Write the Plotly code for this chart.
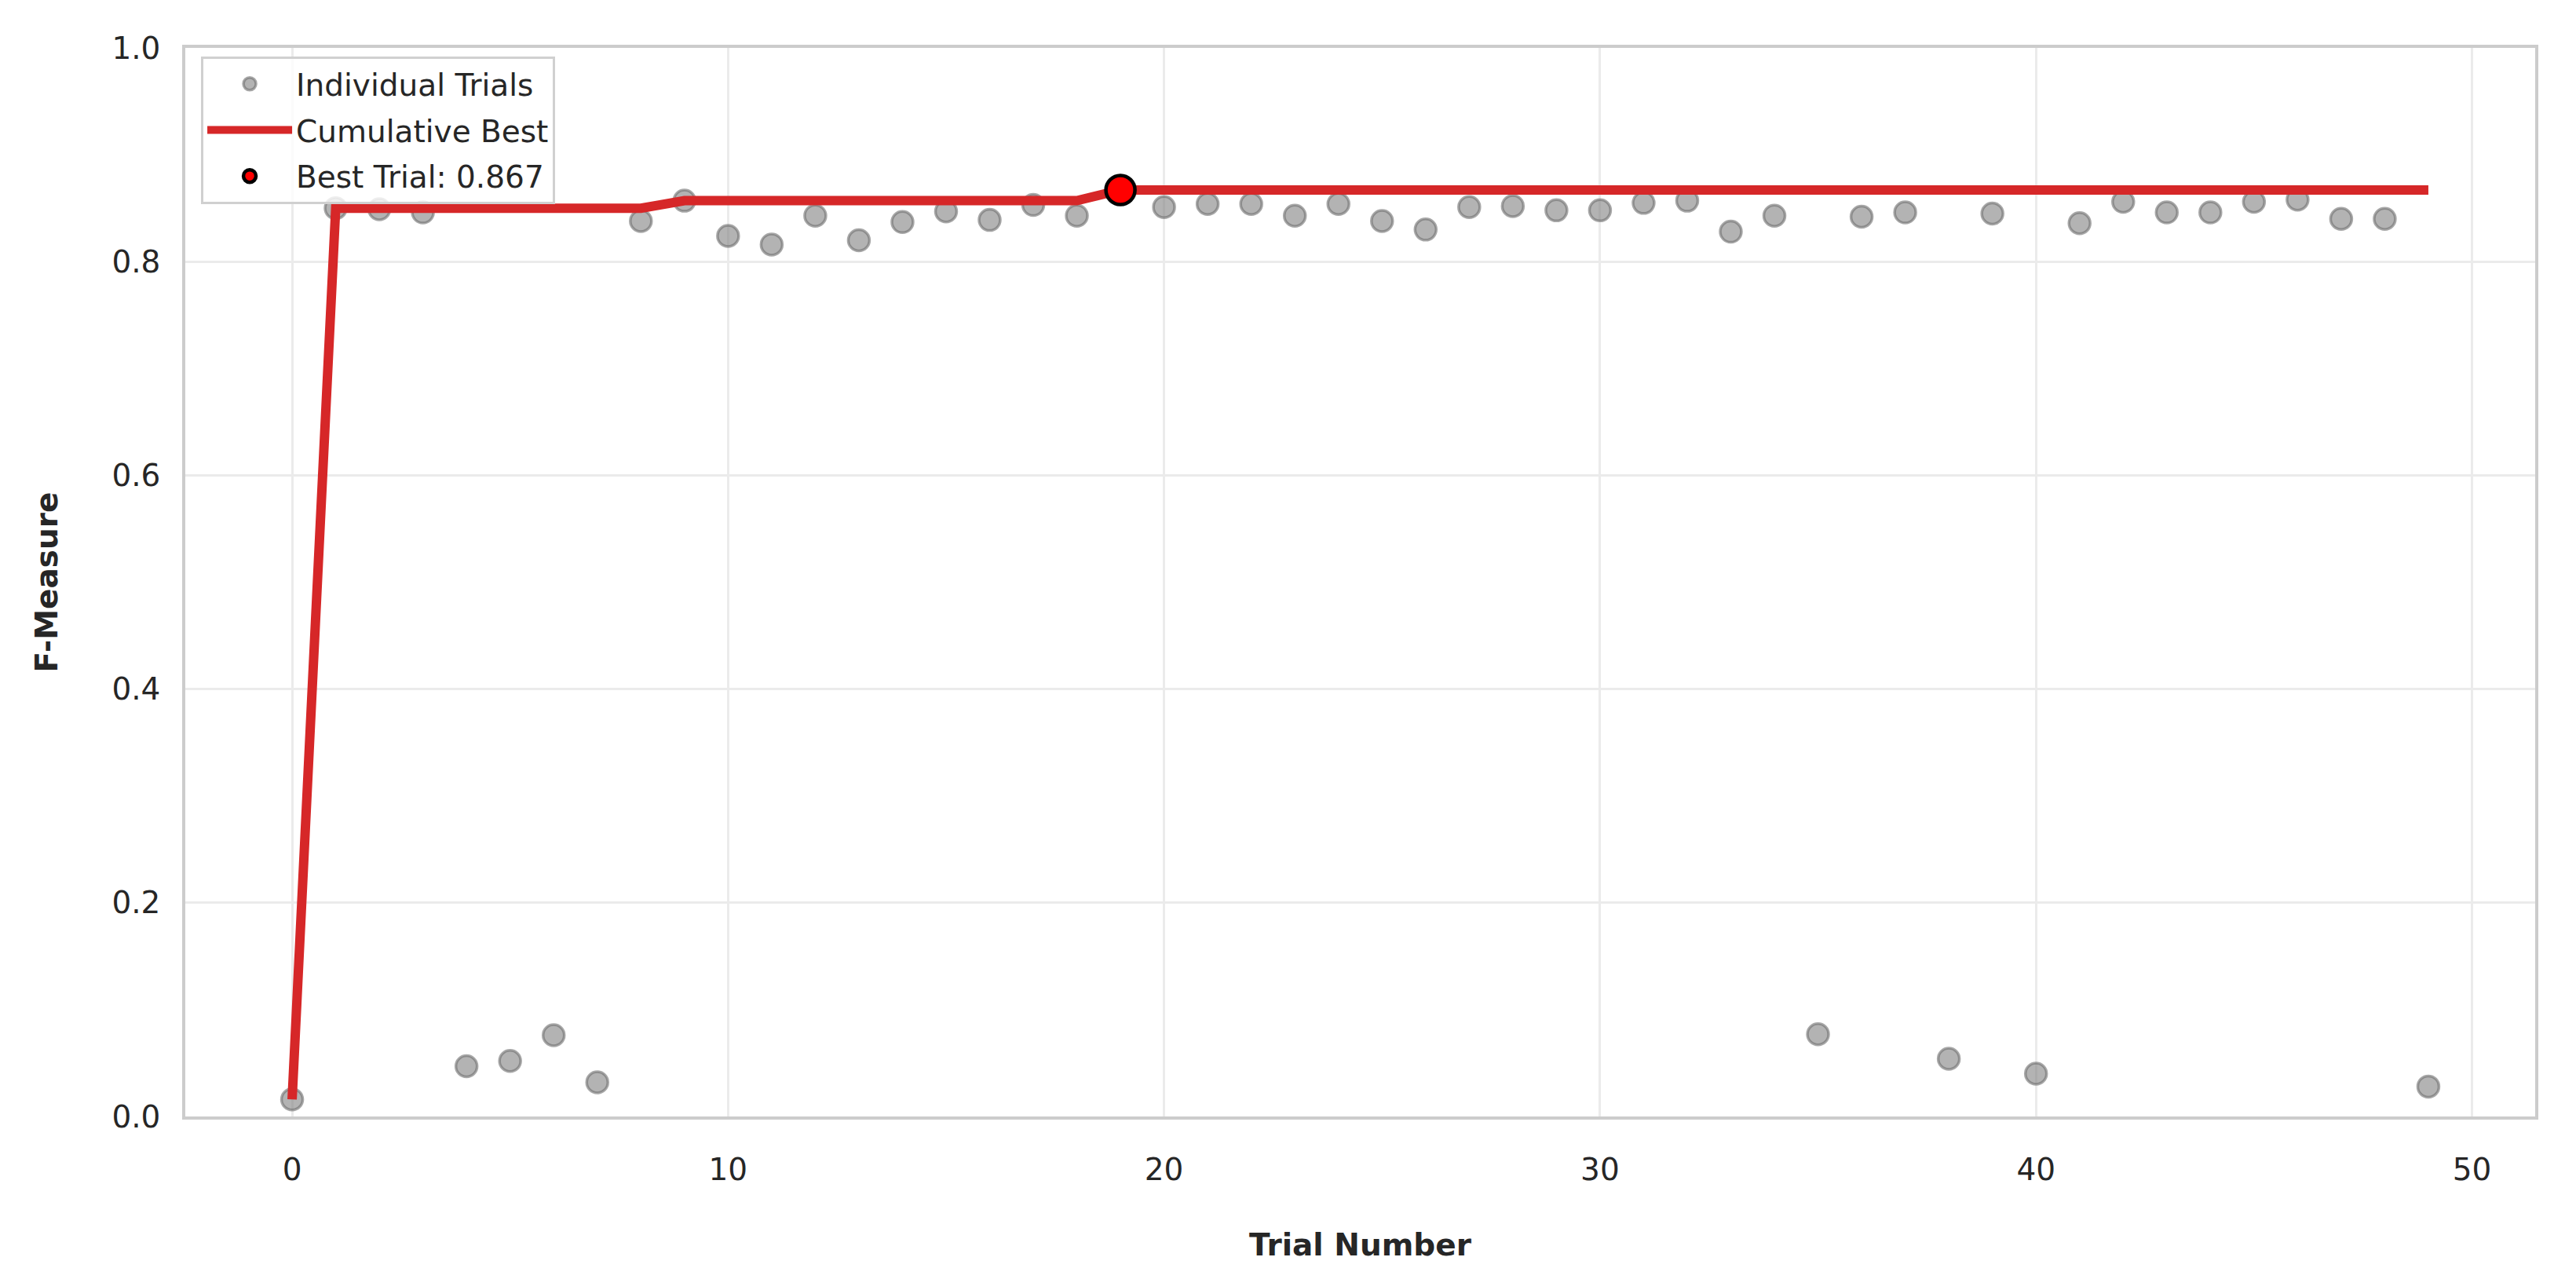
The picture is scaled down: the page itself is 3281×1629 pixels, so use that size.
import numpy as np
import plotly.graph_objects as go

# ---- data ----
trial_numbers = list(range(50))
f_measure = [
    0.016, 0.850, 0.849, 0.846, 0.047, 0.052, 0.076, 0.032, 0.838, 0.857,
    0.824, 0.816, 0.843, 0.820, 0.837, 0.847, 0.839, 0.853, 0.843, 0.867,
    0.851, 0.854, 0.854, 0.843, 0.854, 0.838, 0.830, 0.851, 0.852, 0.848,
    0.848, 0.855, 0.857, 0.828, 0.843, 0.077, 0.842, 0.846, 0.054, 0.845,
    0.040, 0.836, 0.856, 0.846, 0.846, 0.856, 0.858, 0.840, 0.840, 0.028,
]
x_tick_vals = [0, 10, 20, 30, 40, 50]
y_tick_vals = [0.0, 0.2, 0.4, 0.6, 0.8, 1.0]

cumulative_best = np.maximum.accumulate(np.array(f_measure))
best_idx = int(np.argmax(f_measure))
best_val = f_measure[best_idx]

W, H = 3281, 1629
BODY = 8  # default page margin of the html body
FONT = "DejaVu Sans"
TXT = "#262626"

fig = go.Figure()
fig.add_trace(go.Scatter(
    x=trial_numbers, y=f_measure, mode="markers", name="Individual Trials",
    legendgroup="a",
    marker=dict(size=27, color="rgba(128,128,128,0.6)",
                line=dict(color="rgba(110,110,110,0.6)", width=3.5)),
))
fig.add_trace(go.Scatter(
    x=trial_numbers, y=cumulative_best, mode="lines", name="Cumulative Best",
    legendgroup="b",
    line=dict(color="#d62728", width=12),
))
fig.add_trace(go.Scatter(
    x=[trial_numbers[best_idx]], y=[best_val], mode="markers",
    name=f"Best Trial: {best_val:.3f}", legendgroup="c",
    marker=dict(size=37, color="#ff0000", line=dict(color="black", width=4.5)),
))

axis_common = dict(
    showgrid=True, gridcolor="#ebebeb", gridwidth=3,
    showline=True, linecolor="#cccccc", linewidth=3.5, mirror=True,
    zeroline=False, ticks="", tickfont=dict(family=FONT, size=39, color=TXT),
    automargin=False,
)

fig.update_layout(
    width=W, height=H,
    paper_bgcolor="white", plot_bgcolor="white",
    margin=dict(l=236 - BODY, r=52 + BODY, t=61 - BODY, b=207 + BODY, pad=0),
    font=dict(family=FONT, color=TXT),
    xaxis=dict(
        **axis_common,
        range=[-2.45, 51.45], tickvals=x_tick_vals,
        ticklabelstandoff=30,
        title=dict(text="<b>Trial Number</b>", font=dict(family=FONT, size=39, color=TXT),
                   standoff=62),
    ),
    yaxis=dict(
        **axis_common,
        range=[0, 1.0], tickvals=y_tick_vals, tickformat=".1f",
        ticklabelstandoff=20,
        title=dict(text="<b>F-Measure</b>", font=dict(family=FONT, size=39, color=TXT),
                   standoff=58),
    ),
    legend=dict(
        x=0.0067, y=0.992, xanchor="left", yanchor="top",
        bgcolor="rgba(255,255,255,0.8)", bordercolor="#d0d0d0", borderwidth=3,
        font=dict(family=FONT, size=39, color=TXT),
        itemwidth=108, tracegroupgap=5,
    ),
    showlegend=True,
)

fig.write_html("out.html")
